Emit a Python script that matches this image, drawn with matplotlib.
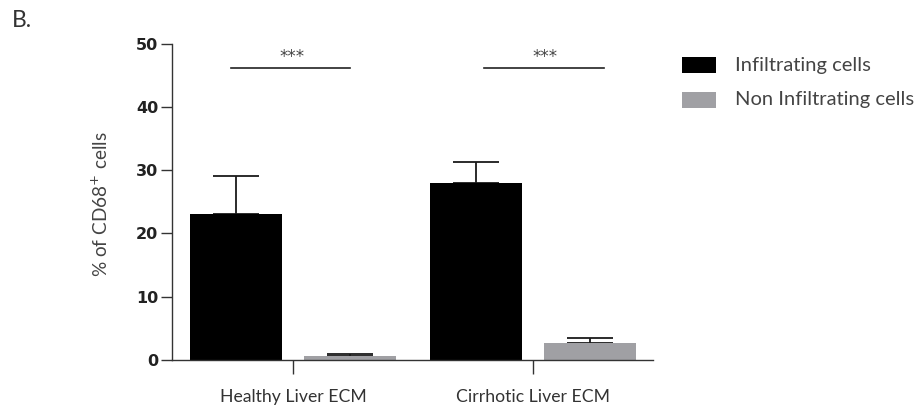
import matplotlib
matplotlib.use("Agg")
import matplotlib.pyplot as plt
from matplotlib.patches import Rectangle
import numpy as np

# Data
groups = ["Healthy Liver ECM", "Cirrhotic Liver ECM"]
series = ["Infiltrating cells", "Non Infiltrating cells"]
infiltrating = [23.0, 28.0]
infiltrating_err = [6.1, 3.3]
non_infiltrating = [0.6, 2.7]
non_infiltrating_err = [0.3, 0.8]
yticks = [0, 10, 20, 30, 40, 50]
sig_labels = ["***", "***"]
sig_height = 46.2

colors = ["#000000", "#a0a0a4"]

fig = plt.figure(figsize=(9.16, 4.08), dpi=100)
W, H = 916, 408
ax_left, ax_right, ax_bottom, ax_top = 172, 653, 360, 43.5
ax = fig.add_axes([ax_left / W, 1 - ax_bottom / H,
                   (ax_right - ax_left) / W, (ax_bottom - ax_top) / H])

x = np.arange(len(groups))
offset = 0.2375
width = 0.38

ax.bar(x - offset, infiltrating, width, color=colors[0], zorder=2)
ax.bar(x + offset, non_infiltrating, width, color=colors[1], zorder=2)

# upward-only error bars
ekw = dict(fmt="none", ecolor="#1a1a1a", elinewidth=1.3, capsize=16.5,
           capthick=1.3, zorder=1)
ax.errorbar(x - offset, infiltrating,
            yerr=[np.zeros(len(groups)), infiltrating_err], **ekw)
ax.errorbar(x + offset, non_infiltrating,
            yerr=[np.zeros(len(groups)), non_infiltrating_err], **ekw)

# significance brackets (span relative to group centre, star position)
bracket_spans = [(-0.258, 0.2375), (-0.204, 0.296)]
star_shift = [-0.004, 0.05]
for i, lab in enumerate(sig_labels):
    lo, hi = bracket_spans[i]
    ax.plot([i + lo, i + hi], [sig_height, sig_height],
            color="#222222", lw=1.2, clip_on=False)
    ax.text(i + star_shift[i], sig_height + 0.25, lab, ha="center",
            va="bottom", fontsize=12, color="#444444")

ax.set_xlim(-0.504, 1.5)
ax.set_ylim(0, 50)
ax.set_yticks(yticks)
ax.set_yticklabels([str(t) for t in yticks], fontsize=11.5,
                   fontweight="bold", color="#222222")
ax.set_xticks(x)
ax.set_xticklabels(groups, fontsize=12.7, color="#333333", family="Lato")
ax.tick_params(axis="x", length=10, width=1.0, pad=11, color="#333333")
ax.tick_params(axis="y", length=8, width=1.0, pad=2, color="#333333")

for s in ["top", "right"]:
    ax.spines[s].set_visible(False)
for s in ["left", "bottom"]:
    ax.spines[s].set_linewidth(1.0)
    ax.spines[s].set_color("#333333")

ax.set_ylabel(r"% of CD68$^{+}$ cells", fontsize=13.7, color="#444444",
              family="Lato")
ax.yaxis.set_label_coords((111 - ax_left) / (ax_right - ax_left), 0.494)

# legend drawn as swatches + labels in figure pixel space
leg_rows_y = [65, 100]
for name, col, yc in zip(series, colors, leg_rows_y):
    fig.add_artist(Rectangle((682 / W, 1 - (yc + 8) / H), 34 / W, 16 / H,
                             transform=fig.transFigure, color=col, lw=0))
    fig.text(735 / W, 1 - yc / H, name, fontsize=14.5, family="Lato",
             color="#444444", va="center", ha="left")

fig.text(12 / W, 1 - 20.5 / H, "B.", fontsize=16.5, family="Lato",
         color="#333333", va="center")

fig.savefig("out.png", dpi=100)
